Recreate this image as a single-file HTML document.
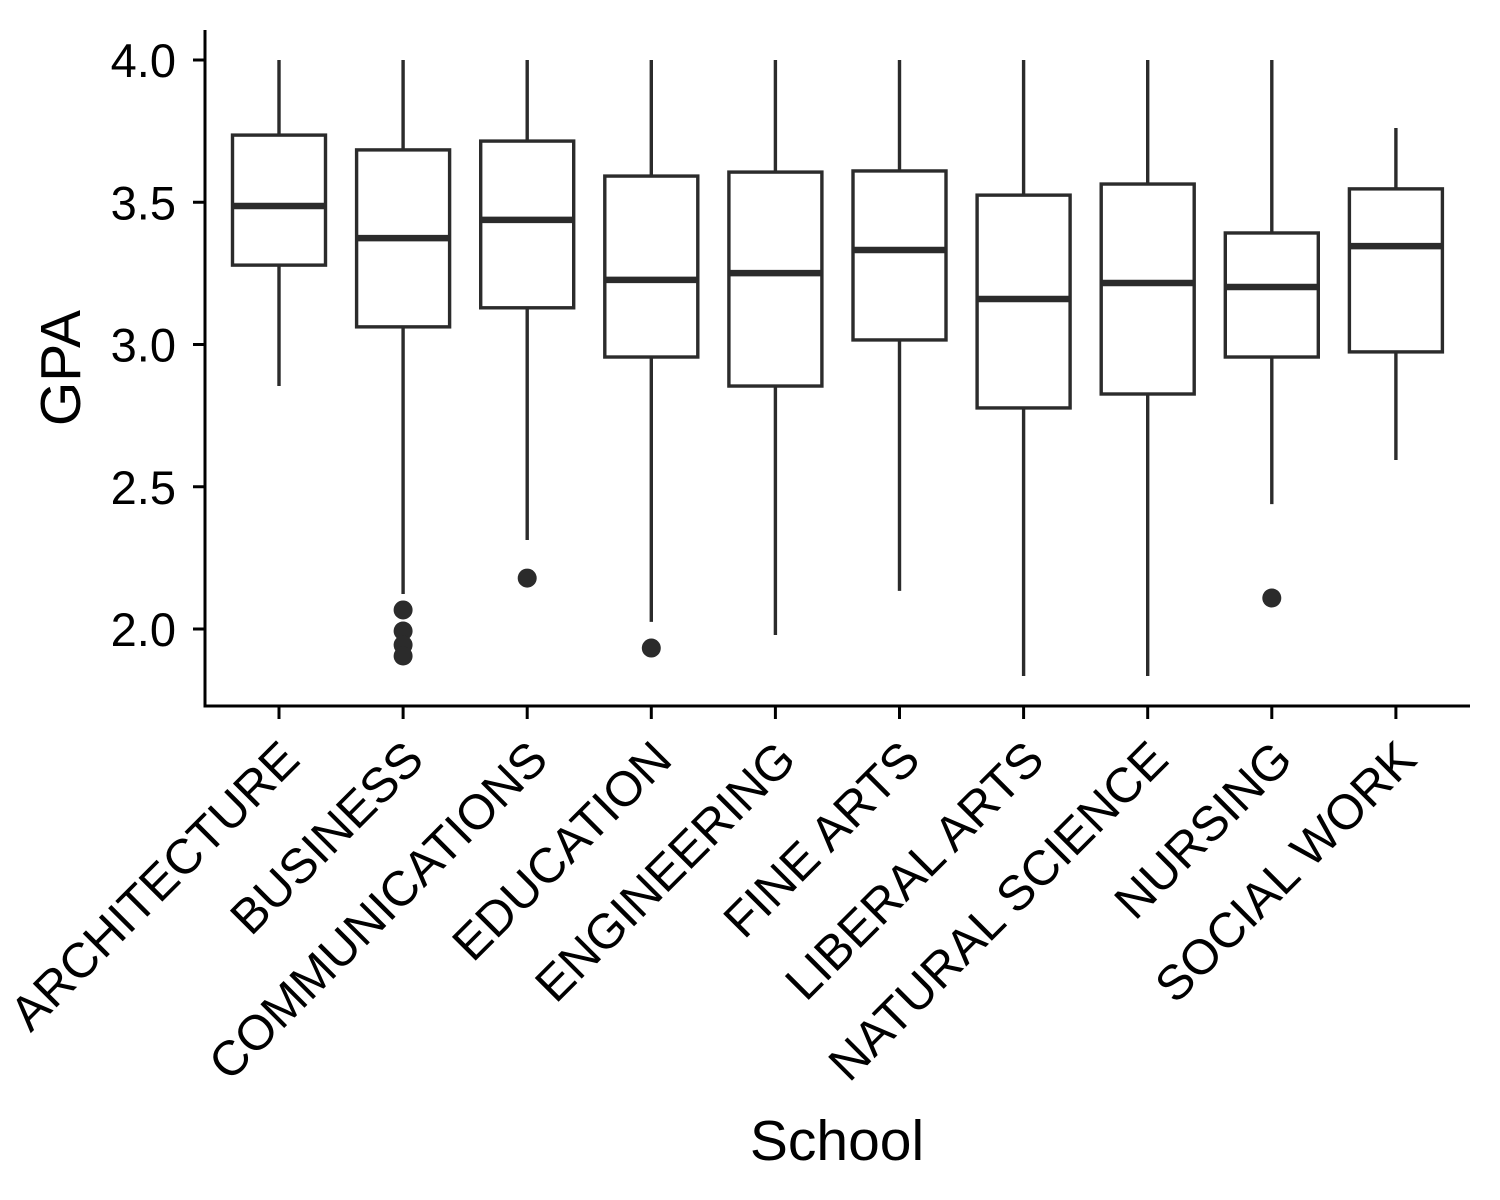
<!DOCTYPE html>
<html><head><meta charset="utf-8"><style>
html,body{margin:0;padding:0;background:#fff}
svg{display:block;font-family:"Liberation Sans",Arial,sans-serif}
</style></head><body>
<svg id="chart" width="1500" height="1200" viewBox="0 0 1500 1200" xmlns="http://www.w3.org/2000/svg"></svg>
<script>
const categories = ["ARCHITECTURE","BUSINESS","COMMUNICATIONS","EDUCATION","ENGINEERING","FINE ARTS","LIBERAL ARTS","NATURAL SCIENCE","NURSING","SOCIAL WORK"];
const whiskerHigh = [4.0,4.0,4.0,4.0,4.0,4.0,4.0,4.0,4.0,3.761];
const q3Values = [3.736,3.684,3.715,3.592,3.606,3.610,3.525,3.564,3.392,3.547];
const medianValues = [3.487,3.374,3.438,3.227,3.251,3.332,3.160,3.216,3.202,3.346];
const q1Values = [3.279,3.062,3.129,2.956,2.854,3.016,2.777,2.826,2.956,2.974];
const whiskerLow = [2.854,2.123,2.313,2.025,1.979,2.134,1.835,1.835,2.439,2.594];
const outliers = [[],[2.067,1.993,1.944,1.905],[2.179],[1.933],[],[],[],[],[2.109],[]];
const yTicks = [2.0,2.5,3.0,3.5,4.0];
const yTickLabels = ["2.0","2.5","3.0","3.5","4.0"];

(function(){
const NS="http://www.w3.org/2000/svg";
const svg=document.getElementById('chart');
const plotLeft=205,plotRight=1470,plotTop=30,plotBottom=706;
const yScale=v=>60+(4.0-v)*284.5;
const xScale=i=>279+i*124.1;
const boxW=93,col="#2b2b2b",lw=3.4;
function mk(tag,attrs,parent){const e=document.createElementNS(NS,tag);for(const k in attrs)e.setAttribute(k,attrs[k]);(parent||svg).appendChild(e);return e;}

const yAxis=mk('line',{x1:plotLeft,y1:plotTop,x2:plotLeft,y2:plotBottom+1.5,stroke:'#000','stroke-width':3});


const xAxis=mk('line',{x1:plotLeft-1.5,y1:plotBottom,x2:plotRight,y2:plotBottom,stroke:'#000','stroke-width':3});



yTicks.forEach((v,i)=>{
  const y=yScale(v);
  const t=mk('line',{x1:plotLeft-12,y1:y,x2:plotLeft,y2:y,stroke:'#000','stroke-width':3});
  
  
  const lb=mk('text',{x:176,y:y+17,'text-anchor':'end','font-size':47,fill:'#000'});
  lb.textContent=yTickLabels[i];
  
  
});

categories.forEach((c,i)=>{
  const x=xScale(i);
  const g=mk('g',{});
  
  
  mk('line',{x1:x,y1:yScale(whiskerHigh[i]),x2:x,y2:yScale(q3Values[i]),stroke:col,'stroke-width':lw},g);
  mk('line',{x1:x,y1:yScale(q1Values[i]),x2:x,y2:yScale(whiskerLow[i]),stroke:col,'stroke-width':lw},g);
  mk('rect',{x:x-boxW/2,y:yScale(q3Values[i]),width:boxW,height:yScale(q1Values[i])-yScale(q3Values[i]),fill:'#fff',stroke:col,'stroke-width':lw},g);
  mk('line',{x1:x-boxW/2,y1:yScale(medianValues[i]),x2:x+boxW/2,y2:yScale(medianValues[i]),stroke:col,'stroke-width':6.5},g);
  outliers[i].forEach(v=>{
    const p=mk('circle',{cx:x,cy:yScale(v),r:9.5,fill:col},g);
    
    
  });
  const t=mk('line',{x1:x,y1:plotBottom,x2:x,y2:plotBottom+13,stroke:'#000','stroke-width':3});
  
  
  const ax=x+23, ay=762;
  const lb=mk('text',{x:ax,y:ay,'text-anchor':'end','font-size':49,fill:'#000',transform:`rotate(-45 ${ax} ${ay})`});
  lb.textContent=c;
  
  
});

const yt=mk('text',{x:80,y:368,'text-anchor':'middle','font-size':57,fill:'#000',transform:'rotate(-90 80 368)'});
yt.textContent='GPA';


const xt=mk('text',{x:837,y:1160,'text-anchor':'middle','font-size':57,fill:'#000'});
xt.textContent='School';


})();
</script>
</body></html>
